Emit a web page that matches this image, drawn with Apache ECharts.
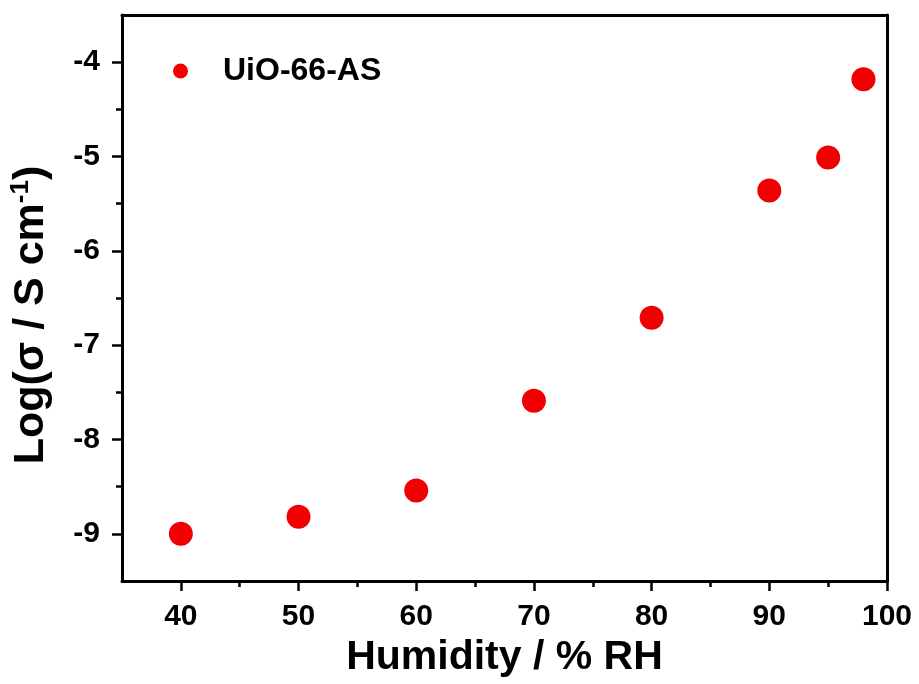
<!DOCTYPE html>
<html><head><meta charset="utf-8">
<script src="https://cdn.jsdelivr.net/npm/echarts@6/dist/echarts.min.js"></script>
<style>html,body{margin:0;padding:0;background:#fff}#c{width:919px;height:684px}</style>
</head><body><div id="c"></div>
<script>
const humidity = [40, 50, 60, 70, 80, 90, 95, 98];
const logSigma = [-9.0, -8.82, -8.54, -7.59, -6.71, -5.36, -5.01, -4.18];
const xMajorTicks = [40, 50, 60, 70, 80, 90, 100];
const xMinorTicks = [45, 55, 65, 75, 85, 95];
const yMajorTicks = [-9, -8, -7, -6, -5, -4];
const yMinorTicks = [-8.5, -7.5, -6.5, -5.5, -4.5];
const seriesName = 'UiO-66-AS';

const FONT = 'Liberation Sans';
const gridRect = {left: 122, right: 32, top: 15, bottom: 103, containLabel: false, outerBoundsMode: 'none'};
const lineStyle = {color: '#000', width: 3};
const tickStyle = {color: '#000', width: 2.5};
const labelStyle = {fontFamily: FONT, fontWeight: 'bold', fontSize: 30, color: '#000'};

const chart = echarts.init(document.getElementById('c'));
chart.setOption({
  animation: false,
  backgroundColor: '#fff',
  grid: [Object.assign({}, gridRect), Object.assign({}, gridRect)],
  legend: {
    data: [seriesName], left: 168, top: 50, icon: 'circle',
    itemWidth: 15, itemHeight: 15,
    textStyle: {fontFamily: FONT, fontWeight: 'bold', fontSize: 32, color: '#000', padding: [0, 0, 0, 30]}
  },
  xAxis: [
    {gridIndex: 0, type: 'value', min: 35, max: 100, position: 'bottom',
     axisLine: {show: true, lineStyle: lineStyle},
     axisTick: {show: true, customValues: xMajorTicks, length: 10, lineStyle: tickStyle},
     axisLabel: Object.assign({customValues: xMajorTicks, margin: 21}, labelStyle),
     splitLine: {show: false},
     name: 'Humidity / % RH', nameLocation: 'middle', nameGap: 55,
     nameTextStyle: {fontFamily: FONT, fontWeight: 'bold', fontSize: 41, color: '#000'}},
    {gridIndex: 0, type: 'value', min: 35, max: 100, position: 'top',
     axisLine: {show: true, lineStyle: lineStyle},
     axisTick: {show: false}, axisLabel: {show: false}, splitLine: {show: false}},
    {gridIndex: 1, type: 'value', min: 35, max: 100, position: 'bottom',
     axisLine: {show: false},
     axisTick: {show: true, customValues: xMinorTicks, length: 6, lineStyle: tickStyle},
     axisLabel: {show: false}, splitLine: {show: false}}
  ],
  yAxis: [
    {gridIndex: 0, type: 'value', min: -9.5, max: -3.5, position: 'left',
     axisLine: {show: true, lineStyle: lineStyle},
     axisTick: {show: true, customValues: yMajorTicks, length: 10, lineStyle: tickStyle},
     axisLabel: Object.assign({customValues: yMajorTicks, margin: 22}, labelStyle),
     splitLine: {show: false},
     name: 'Log(σ / S cm{sup|-1})', nameLocation: 'middle', nameGap: 68,
     nameTextStyle: {fontFamily: FONT, fontWeight: 'bold', fontSize: 43, color: '#000', padding: [0, 34, 0, 0],
       rich: {sup: {fontFamily: FONT, fontWeight: 'bold', fontSize: 26, color: '#000', verticalAlign: 'top', padding: [0, 0, 20, 0]}}}},
    {gridIndex: 0, type: 'value', min: -9.5, max: -3.5, position: 'right',
     axisLine: {show: true, lineStyle: lineStyle},
     axisTick: {show: false}, axisLabel: {show: false}, splitLine: {show: false}},
    {gridIndex: 1, type: 'value', min: -9.5, max: -3.5, position: 'left',
     axisLine: {show: false},
     axisTick: {show: true, customValues: yMinorTicks, length: 6, lineStyle: tickStyle},
     axisLabel: {show: false}, splitLine: {show: false}}
  ],
  series: [{
    name: seriesName, type: 'scatter', xAxisIndex: 0, yAxisIndex: 0,
    symbol: 'circle', symbolSize: 24,
    itemStyle: {color: '#f00000', opacity: 1},
    data: humidity.map((h, i) => [h, logSigma[i]])
  }]
});
</script></body></html>
